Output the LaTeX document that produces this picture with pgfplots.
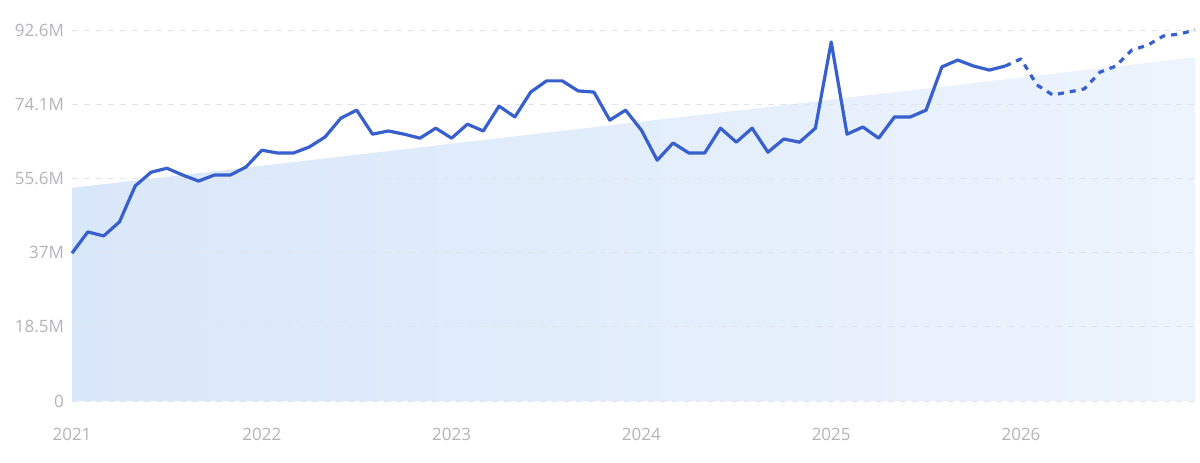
\documentclass[border=0pt]{standalone}
\usepackage{pgfplots}
\pgfplotsset{compat=1.18}
\usepackage{fontspec}
\setmainfont{Open Sans}
\definecolor{linec}{RGB}{55,95,205}
\definecolor{gridc}{RGB}{225,228,232}
\definecolor{tickc}{RGB}{180,180,184}
\definecolor{fillL}{RGB}{217,231,250}
\definecolor{fillR}{RGB}{237,244,253}
\pgfplotstableread{
m v
0 36.9
1 42.2
2 41.2
3 44.7
4 53.7
5 57.1
6 58.1
7 56.4
8 54.9
9 56.4
10 56.4
11 58.4
12 62.6
13 61.9
14 61.9
15 63.4
16 65.9
17 70.6
18 72.6
19 66.6
20 67.4
21 66.6
22 65.6
23 68.1
24 65.6
25 69.1
26 67.4
27 73.6
28 70.9
29 77.1
30 79.9
31 79.9
32 77.4
33 77.1
34 70.1
35 72.6
36 67.6
37 60.1
38 64.4
39 61.9
40 61.9
41 68.1
42 64.6
43 68.1
44 62.1
45 65.4
46 64.6
47 68.1
48 89.6
49 66.6
50 68.4
51 65.6
52 70.9
53 70.9
54 72.6
55 83.4
56 85.1
57 83.6
58 82.6
59 83.6
}\actual
\pgfplotstableread{
m v
59 83.6
60 85.4
61 78.9
62 76.4
63 77.1
64 77.9
65 82.1
66 83.6
67 87.6
68 88.8
69 91.1
70 91.6
71 92.6
}\forecast
\begin{document}
\begin{tikzpicture}
\begin{axis}[
  at={(0,0)}, anchor=south west,
  scale only axis, width=561.5pt, height=185.5pt,
  set layers,
  xmin=0, xmax=71, ymin=0, ymax=92.6,
  axis line style={draw=none},
  xtick={0,12,24,36,48,60},
  xticklabels={2021,2022,2023,2024,2025,2026},
  ytick={0,18.5,37,55.6,74.1,92.6},
  yticklabels={0,18.5M,37M,55.6M,74.1M,92.6M},
  ymajorgrids,
  grid style={gridc, line width=0.5pt, dash pattern=on 3pt off 3pt},
  tick style={draw=none},
  ticklabel style={font=\fontsize{8.5}{10}\selectfont, text=tickc},
  /pgf/number format/assume math mode=true,
  yticklabel style={xshift=-0.5pt},
  xticklabel style={yshift=-10pt},
  clip=false,
]
\addplot[draw=none, left color=fillL, right color=fillR, on layer=axis background] coordinates {(0,53.2) (71,85.8)} \closedcycle;
\addplot[linec, line width=1.6pt, line join=round] table[x=m,y=v] {\actual};
\addplot[linec, line width=1.6pt, dash pattern=on 3pt off 3pt, line join=round] table[x=m,y=v] {\forecast};
\end{axis}
\pgfresetboundingbox
\path (-36pt,-30.5pt) rectangle (564pt,200.5pt);
\end{tikzpicture}
\end{document}
